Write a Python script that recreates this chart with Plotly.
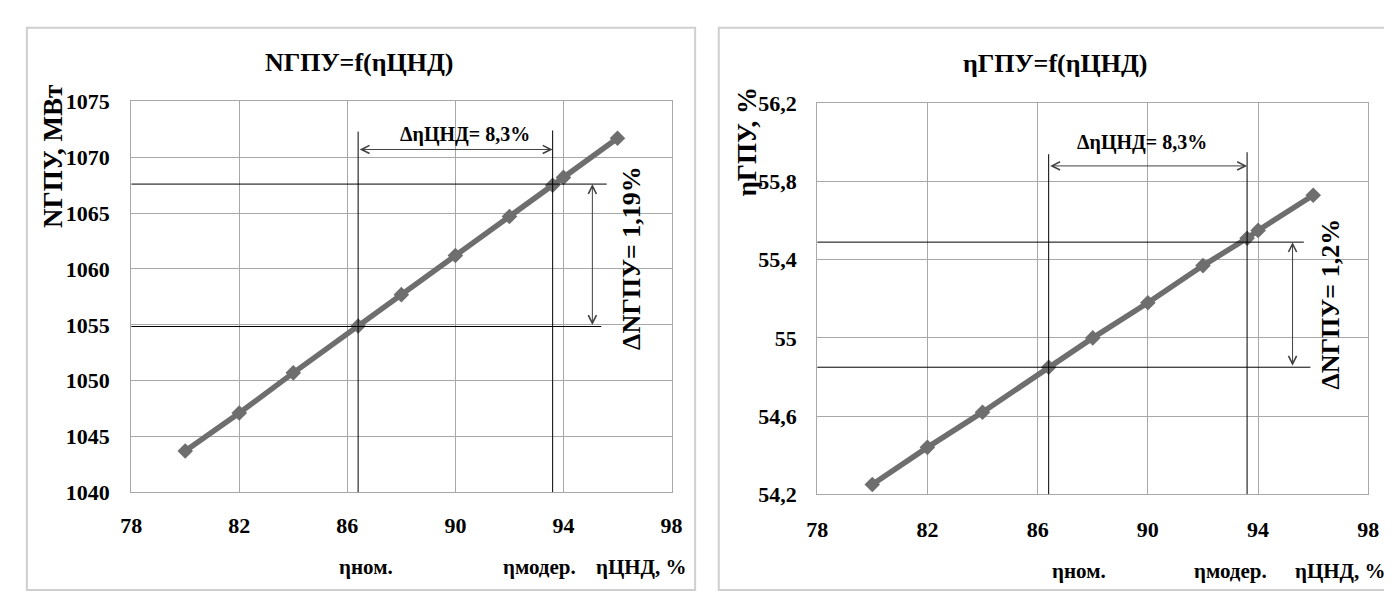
import plotly.graph_objects as go

# ---- data ----
eta_cnd = [80, 82, 84, 86.4, 88, 90, 92, 93.6, 94, 96]
N_gpu = [1043.7, 1047.1, 1050.7, 1054.9, 1057.7, 1061.2, 1064.7, 1067.5, 1068.2, 1071.7]
eta_gpu = [54.25, 54.44, 54.62, 54.85, 55.0, 55.18, 55.37, 55.51, 55.55, 55.73]

eta_nom, eta_mod = 86.4, 93.6
N_nom, N_mod = 1054.85, 1067.6
etaG_nom, etaG_mod = 54.85, 55.49

x_ticks = [78, 82, 86, 90, 94, 98]
y1_ticks = [1040, 1045, 1050, 1055, 1060, 1065, 1070, 1075]
y2_ticks = [54.2, 54.6, 55.0, 55.4, 55.8, 56.2]
y2_ticktext = ["54,2", "54,6", "55", "55,4", "55,8", "56,2"]

title_left = "NГПУ=f(ηЦНД)"
title_right = "ηГПУ=f(ηЦНД)"
ytitle_left = "NГПУ, МВт"
ytitle_right = "ηГПУ, %"
d_eta_text = "ΔηЦНД= 8,3%"
dN_left_text = "ΔNГПУ= 1,19%"
dN_right_text = "ΔNГПУ= 1,2%"
xlab_nom, xlab_mod, xlab_axis = "ηном.", "ηмодер.", "ηЦНД, %"

W, H = 1392, 597
SERIF = "Liberation Serif"
LINE_COL = "#6e6e6e"
GRID_COL = "#a8a8a8"

fig = go.Figure()
fig.add_trace(go.Scatter(x=eta_cnd, y=N_gpu, mode="lines+markers", xaxis="x", yaxis="y",
                         line=dict(color=LINE_COL, width=5.5),
                         marker=dict(symbol="diamond", size=12, color=LINE_COL),
                         showlegend=False))
fig.add_trace(go.Scatter(x=eta_cnd, y=eta_gpu, mode="lines+markers", xaxis="x2", yaxis="y2",
                         line=dict(color=LINE_COL, width=5.5),
                         marker=dict(symbol="diamond", size=12, color=LINE_COL),
                         showlegend=False))

def px_x(p):
    return p / W

def px_y(p):
    return 1 - p / H

axis_common = dict(showgrid=True, gridcolor=GRID_COL, gridwidth=1, showline=True,
                   linecolor=GRID_COL, linewidth=1, mirror=True, ticks="", zeroline=False,
                   tickfont=dict(family=SERIF, size=22, color="black", weight="bold"))

fig.update_layout(
    width=W, height=H,
    margin=dict(l=0, r=0, t=0, b=0),
    paper_bgcolor="white", plot_bgcolor="white",
    font=dict(family=SERIF),
    xaxis=dict(domain=[px_x(114), px_x(663)], range=[78, 98], tickvals=x_ticks,
               anchor="y", ticklabelstandoff=13, **axis_common),
    yaxis=dict(domain=[px_y(493), px_y(85)], range=[1040, 1075], tickvals=y1_ticks,
               anchor="x", ticklabelstandoff=16, **axis_common),
    xaxis2=dict(domain=[px_x(811), px_x(1371)], range=[78, 98], tickvals=x_ticks,
                anchor="y2", ticklabelstandoff=15, **axis_common),
    yaxis2=dict(domain=[px_y(495), px_y(87)], range=[54.2, 56.2], tickvals=y2_ticks,
                ticktext=y2_ticktext, anchor="x2", ticklabelstandoff=15, **axis_common),
)

shapes = []
# panel borders
for x0, x1 in [(8, 687), (711, 1388)]:
    shapes.append(dict(type="rect", xref="paper", yref="paper",
                       x0=px_x(x0), x1=px_x(x1), y0=px_y(595), y1=px_y(8),
                       line=dict(color="#cfcfcf", width=2), layer="below"))

ref_line = dict(color="black", width=1)
# left chart reference lines
shapes += [
    dict(type="line", xref="x", yref="y", x0=eta_nom, x1=eta_nom, y0=1040, y1=1072.3, line=ref_line),
    dict(type="line", xref="x", yref="y", x0=eta_mod, x1=eta_mod, y0=1040, y1=1072.4, line=ref_line),
    dict(type="line", xref="x", yref="y", x0=78, x1=95.6, y0=N_mod, y1=N_mod, line=ref_line),
    dict(type="line", xref="x", yref="y", x0=78, x1=95.4, y0=N_nom, y1=N_nom, line=ref_line),
]
# right chart reference lines
shapes += [
    dict(type="line", xref="x2", yref="y2", x0=eta_nom, x1=eta_nom, y0=54.2, y1=55.94, line=ref_line),
    dict(type="line", xref="x2", yref="y2", x0=eta_mod, x1=eta_mod, y0=54.2, y1=55.95, line=ref_line),
    dict(type="line", xref="x2", yref="y2", x0=78, x1=95.66, y0=etaG_mod, y1=etaG_mod, line=ref_line),
    dict(type="line", xref="x2", yref="y2", x0=78, x1=95.9, y0=etaG_nom, y1=etaG_nom, line=ref_line),
]
fig.update_layout(shapes=shapes)

ann = []
def arrow(xr, yr, x0, y0, x1, y1):
    return dict(xref=xr, yref=yr, axref=xr, ayref=yr, x=x1, y=y1, ax=x0, ay=y0, text="",
                showarrow=True, arrowhead=5, startarrowhead=5, arrowside="end+start",
                arrowsize=1.6, startarrowsize=1.6, arrowwidth=1, arrowcolor="#404040")

ann.append(arrow("x", "y", eta_nom, 1070.7, eta_mod, 1070.7))
ann.append(arrow("x", "y", 95.07, N_nom, 95.07, N_mod))
ann.append(arrow("x2", "y2", eta_nom, 55.88, eta_mod, 55.88))
ann.append(arrow("x2", "y2", 95.25, etaG_nom, 95.25, etaG_mod))

def txt(text, xr, yr, x, y, size, angle=0):
    return dict(xref=xr, yref=yr, x=x, y=y, text=text, showarrow=False,
                textangle=angle, xanchor="center", yanchor="middle",
                font=dict(family=SERIF, size=size, color="black", weight="bold"))

ann += [
    txt(title_left, "paper", "paper", px_x(346), px_y(44), 26),
    txt(title_right, "paper", "paper", px_x(1053), px_y(45), 26),
    txt(ytitle_left, "paper", "paper", px_x(34), px_y(142.5), 27, -90),
    txt(ytitle_right, "paper", "paper", px_x(740), px_y(127.5), 27, -90),
    txt(d_eta_text, "x", "y", 90.35, 1072.0, 20),
    txt(d_eta_text, "x2", "y2", 89.8, 56.0, 20),
    txt(dN_left_text, "x", "y", 96.54, 1061.0, 26, -90),
    txt(dN_right_text, "x2", "y2", 96.64, 55.175, 26, -90),
    txt(xlab_nom, "x", "paper", 86.7, px_y(570.5), 21),
    txt(xlab_mod, "x", "paper", 93.1, px_y(570.5), 21),
    txt(xlab_axis, "x", "paper", 96.9, px_y(570.5), 21),
    txt(xlab_nom, "x2", "paper", 87.5, px_y(575), 21),
    txt(xlab_mod, "x2", "paper", 93.0, px_y(575), 21),
    txt(xlab_axis, "x2", "paper", 97.0, px_y(575), 21),
]
fig.update_layout(annotations=ann)

fig.write_html("out.html")
